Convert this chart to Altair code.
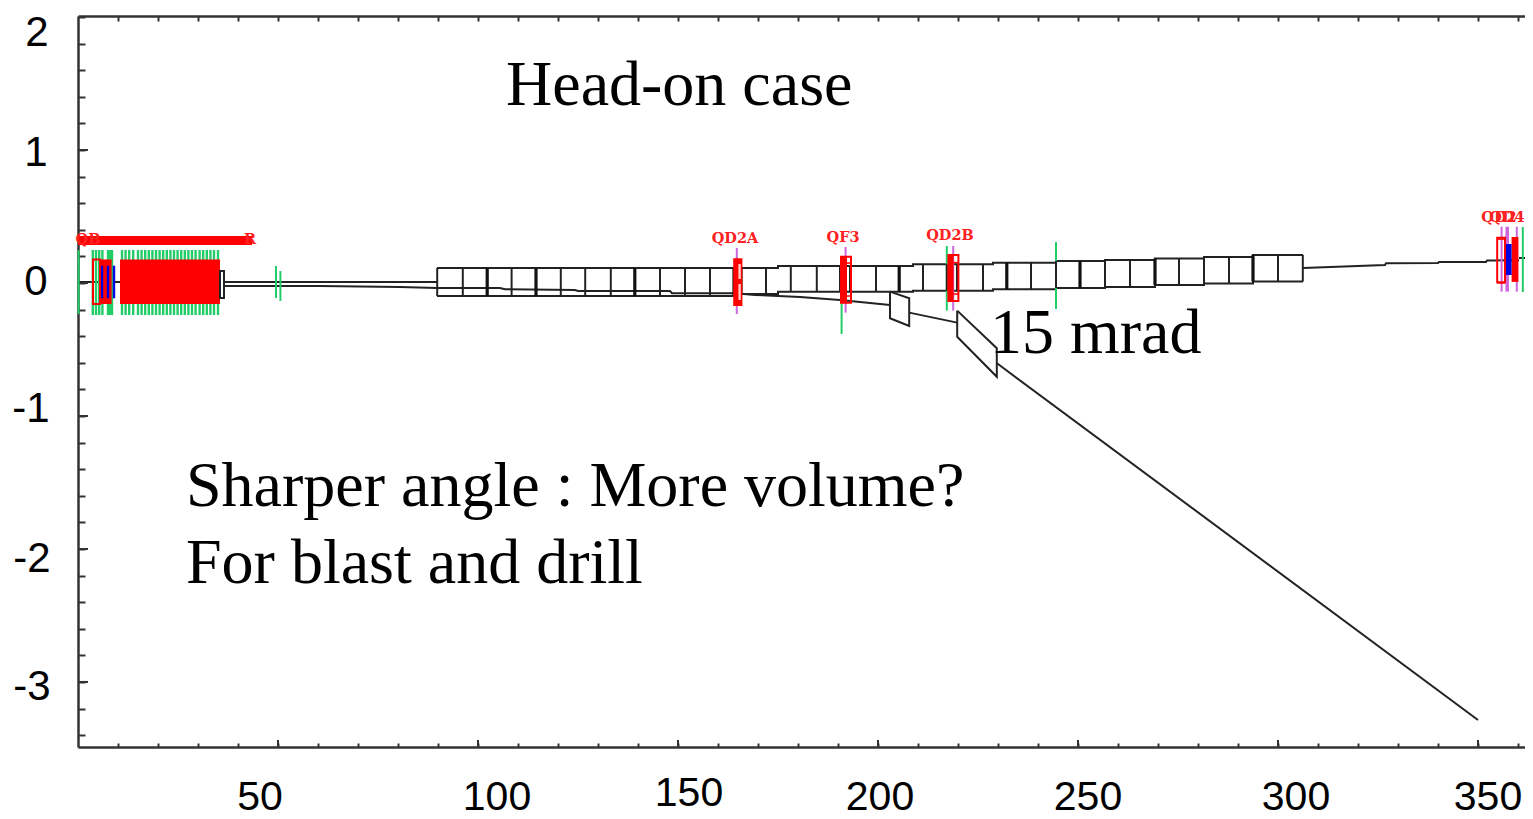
import bisect
import altair as alt
import pandas as pd

# ---- scales (data units) ----
X_DOMAIN = [0, 361.75]
Y_DOMAIN = [-3.489, 2.0075]
PLOT_W, PLOT_H = 1447, 731

x_ticks = list(range(10, 361, 10))
y_ticks = [-3.4, -3.2, -3.0, -2.8, -2.6, -2.4, -2.2, -2.0, -1.8, -1.6, -1.4, -1.2, -1.0, -0.8, -0.6,
           -0.4, -0.2, 0.0, 0.2, 0.4, 0.6, 0.8, 1.0, 1.2, 1.4, 1.6, 1.8, 2.0]
x_major = [50, 100, 150, 200, 250, 300, 350]
y_major = [-3, -2, -1, 0, 1]

# ---- hand placed tick labels (they are off-grid in the reference) ----
x_label_text = ["50", "100", "150", "200", "250", "300", "350"]
x_label_x = [45.5, 104.75, 152.75, 200.5, 252.5, 304.5, 352.5]
x_label_y = [-3.876, -3.876, -3.842, -3.876, -3.876, -3.876, -3.876]
y_label_text = ["2", "1", "0", "-1", "-2", "-3"]
y_label_x = [-10.25, -10.5, -10.5, -11.75, -11.5, -11.5]
y_label_y = [1.88, 0.977, 0.01, -0.948, -2.076, -3.038]

# ---- annotations ----
note_text = ["Head-on case", "15 mrad", "Sharper angle : More volume?", "For blast and drill"]
note_x = [107.0, 228.0, 27.0, 27.0]
note_y = [1.338, -0.526, -1.677, -2.256]

# ---- magnet labels ----
mag_text = ["QD2A", "QF3", "QD2B", "QD2", "QD4"]
mag_x = [164.25, 191.25, 218.0, 355.25, 357.25]
mag_y = [0.331, 0.338, 0.353, 0.485, 0.485]
bar_text = ["QB", "R"]
bar_x = [2.5, 43.0]
bar_y = [0.32, 0.32]

# ---- tunnel segments (stepped top and bottom walls) ----
seg_edges = [89.75, 164.75, 175.0, 208.75, 228.75, 244.5, 256.75, 269.25, 281.5, 293.75, 306.25]
seg_top = [0.113, 0.113, 0.128, 0.141, 0.153, 0.165, 0.173, 0.184, 0.195, 0.211]
seg_bottom = [-0.098, -0.083, -0.065, -0.058, -0.047, -0.038, -0.030, -0.015, -0.004, 0.011]

thin_dividers = [89.8, 96.2, 108.4, 120.7, 126.8, 133.2, 145.5, 151.75, 158.0, 165.9, 172.0, 178.2, 184.7,
                 190.5, 193.0, 199.5, 211.25, 217.2, 219.75, 226.25, 238.25, 244.5, 256.75, 263.0,
                 275.25, 281.5, 287.75, 300.0, 306.2]
thick_dividers = [102.3, 114.5, 139.2, 164.0, 205.3, 232.2, 250.5, 269.25, 293.75]

# ---- beam lines ----
beam_a_x = [36.5, 89.75]
beam_a_y = [0.008, 0.008]
beam_b_x = [36.5, 60.5, 80.5, 89.75, 105.5, 106.75, 124.25, 125.0, 148.0, 148.5, 164.25, 169.25, 180.5, 190.5, 203.0]
beam_b_y = [-0.023, -0.023, -0.030, -0.038, -0.038, -0.047, -0.053, -0.060, -0.060, -0.077, -0.077, -0.090,
            -0.105, -0.128, -0.165]
beam_c_x = [207.8, 219.8]
beam_c_y = [-0.223, -0.298]
beam_d_x = [229.75, 350.0]
beam_d_y = [-0.604, -3.286]
beam_e_x = [306.25, 326.75, 327.0, 340.0, 340.25, 352.0, 352.25, 354.75]
beam_e_y = [0.113, 0.135, 0.148, 0.150, 0.158, 0.158, 0.169, 0.169]
beam_f_x = [360.25, 361.75]
beam_f_y = [0.188, 0.188]
beam_g_x = [0.0, 10.5]
beam_g_y = [0.008, 0.008]
beam_h_x = [355.0, 360.25]
beam_h_y = [0.17, 0.17]

# ---- bend magnets (closed outlines) ----
bend_1_x = [203.0, 207.8, 207.8, 203.0, 203.0]
bend_1_y = [-0.065, -0.115, -0.323, -0.265, -0.065]
bend_2_x = [219.8, 229.7, 229.7, 219.8, 219.8]
bend_2_y = [-0.208, -0.491, -0.705, -0.404, -0.208]

# ---- green correctors ----
green_stripes_x = [3.7, 4.5, 5.3, 6.1, 11.0, 11.9, 12.8, 13.8, 15.0, 15.9, 16.8, 17.7, 18.6, 19.5, 20.4, 21.3,
                   22.2, 23.1, 24.0, 24.9, 25.8, 26.7, 27.6, 28.5, 29.4, 30.4, 31.3, 32.2, 33.1, 34.0, 35.0]
green_other_x = [0.15, 49.5, 50.6, 190.9, 217.2, 244.5, 361.2]
green_other_y = [0.248, 0.128, 0.09, -0.148, 0.278, 0.308, 0.421]
green_other_y2 = [-0.233, -0.113, -0.135, -0.383, -0.208, -0.195, -0.068]

# ---- purple lines ----
purple_x = [164.7, 191.9, 218.8, 355.9, 357.3, 359.7]
purple_y = [0.263, 0.271, 0.278, 0.423, 0.423, 0.423]
purple_y2 = [-0.233, -0.223, -0.208, -0.065, -0.065, -0.065]
purple_w = [2, 2, 2, 2, 3.5, 2]

# ---- filled rectangles: x, x2, y, y2, colour ----
rect_x = [7.2, 0.0, 10.5, 5.5, 163.8, 165.1, 165.1, 190.75, 217.6, 358.4, 5.7, 7.2, 8.7, 356.9]
rect_x2 = [8.8, 43.5, 35.5, 8.4, 166.1, 165.7, 165.7, 192.25, 218.9, 360.1, 6.3, 7.8, 9.3, 358.4]
rect_y = [0.248, 0.353, 0.177, 0.177, 0.186, 0.143, -0.008, 0.198, 0.211, 0.346, 0.130, 0.130, 0.130, 0.293]
rect_y2 = [-0.241, 0.286, -0.158, -0.158, -0.173, 0.03, -0.128, -0.148, -0.135, 0.008, -0.115, -0.115, -0.115, 0.06]
rect_c = ["#22cc66", "#ff0000", "#ff0000", "#ff0000", "#ff0000", "#ffcccc", "#ffcccc", "#ff0000", "#ff0000",
          "#ff0000", "#0000e0", "#0000e0", "#0000e0", "#0000e0"]

# ---- outlined boxes ----
box_x = [3.75, 35.5, 190.75, 217.6, 354.8]
box_x2 = [5.5, 36.5, 193.25, 220.1, 356.75]
box_y = [0.177, 0.09, 0.198, 0.211, 0.341]
box_y2 = [-0.158, -0.113, -0.148, -0.135, 0.005]
box_c = ["#ff0000", "#222222", "#ff0000", "#ff0000", "#ff0000"]

# ---- cross lines inside quadrupoles ----
cross_x = [190.75, 190.75, 217.6, 217.6, 354.8, 354.8]
cross_x2 = [193.25, 193.25, 220.1, 220.1, 356.75, 356.75]
cross_y = [0.150, -0.098, 0.153, -0.083, 0.33, 0.0]


xs = alt.Scale(domain=X_DOMAIN, nice=False, zero=False)
ys = alt.Scale(domain=Y_DOMAIN, nice=False, zero=False)
X = alt.X("x:Q", scale=xs, axis=None)
Y = alt.Y("y:Q", scale=ys, axis=None)


def seg_index(v):
    return min(max(bisect.bisect_right(seg_edges, v) - 1, 0), len(seg_top) - 1)


def rules(df, color, width):
    return alt.Chart(df).mark_rule(color=color, strokeWidth=width).encode(X, Y, x2="x2:Q", y2="y2:Q")


def vrules(xs_, ys_, ys2_, color, width):
    return rules(pd.DataFrame({"x": xs_, "x2": xs_, "y": ys_, "y2": ys2_}), color, width)


paths = [
    ("a", beam_a_x, beam_a_y), ("b", beam_b_x, beam_b_y), ("c", beam_c_x, beam_c_y), ("d", beam_d_x, beam_d_y),
    ("e", beam_e_x, beam_e_y), ("f", beam_f_x, beam_f_y), ("g", beam_g_x, beam_g_y), ("h", beam_h_x, beam_h_y),
    ("m1", bend_1_x, bend_1_y), ("m2", bend_2_x, bend_2_y),
]
top_x, top_y, bot_x, bot_y = [], [], [], []
for i in range(len(seg_top)):
    top_x += [seg_edges[i], seg_edges[i + 1]]
    top_y += [seg_top[i], seg_top[i]]
    bot_x += [seg_edges[i], seg_edges[i + 1]]
    bot_y += [seg_bottom[i], seg_bottom[i]]
paths += [("top", top_x, top_y), ("bot", bot_x, bot_y)]
rows = []
for name, px, py in paths:
    for k, (a, b) in enumerate(zip(px, py)):
        rows.append({"g": name, "i": k, "x": a, "y": b})
lines_df = pd.DataFrame(rows)

lines = alt.Chart(lines_df).mark_line(color="#222222", strokeWidth=2).encode(
    alt.X("x:Q", scale=xs, axis=alt.Axis(orient="top", offset=-PLOT_H, values=x_ticks, labels=False, title=None,
                                         grid=False, tickSize=4, tickWidth=2, tickColor="#333333",
                                         domainColor="#333333", domainWidth=2.5)),
    alt.Y("y:Q", scale=ys, axis=alt.Axis(orient="left", values=y_ticks, labels=False, title=None,
                                         grid=False, tickSize=alt.expr("-7"), tickWidth=2, tickColor="#333333",
                                         domainColor="#333333", domainWidth=2.5)),
    detail="g:N",
    order="i:Q",
)

top_axis = alt.Chart(pd.DataFrame({"x": [0.0], "y": [2.0]})).mark_point(opacity=0).encode(
    alt.X("x:Q", scale=xs, axis=alt.Axis(orient="bottom", offset=-PLOT_H, values=x_ticks, labels=False, title=None,
                                         grid=False, tickSize=5, tickWidth=2, tickColor="#333333",
                                         domainColor="#333333", domainWidth=2.5)),
    Y,
)

# longer major ticks
major_x = vrules(x_major, [-3.489] * len(x_major), [-3.436] * len(x_major), "#333333", 2)
major_y = rules(pd.DataFrame({"x": [0.0] * len(y_major), "x2": [2.5] * len(y_major), "y": y_major, "y2": y_major}),
                "#333333", 2)

stripes = vrules(green_stripes_x, [0.248] * len(green_stripes_x), [-0.241] * len(green_stripes_x), "#22cc66", 2.4)
green_other = vrules(green_other_x, green_other_y, green_other_y2, "#22cc66", 2)

dividers_thin = vrules(thin_dividers, [seg_top[seg_index(v)] for v in thin_dividers],
                       [seg_bottom[seg_index(v)] for v in thin_dividers], "#222222", 2)
dividers_thick = vrules(thick_dividers, [seg_top[seg_index(v)] for v in thick_dividers],
                        [seg_bottom[seg_index(v)] for v in thick_dividers], "#111111", 3.2)

purple = alt.Chart(pd.DataFrame({"x": purple_x, "x2": purple_x, "y": purple_y, "y2": purple_y2, "w": purple_w})).mark_rule(
    color="#cc66dd").encode(X, Y, x2="x2:Q", y2="y2:Q", strokeWidth=alt.StrokeWidth("w:Q", scale=None))

rect_df = pd.DataFrame({"x": rect_x, "x2": rect_x2, "y": rect_y, "y2": rect_y2, "c": rect_c})
rects = alt.Chart(rect_df).mark_rect().encode(X, Y, x2="x2:Q", y2="y2:Q", color=alt.Color("c:N", scale=None))

box_df = pd.DataFrame({"x": box_x, "x2": box_x2, "y": box_y, "y2": box_y2, "c": box_c})
boxes = alt.Chart(box_df).mark_rect(fillOpacity=0, strokeWidth=2).encode(
    X, Y, x2="x2:Q", y2="y2:Q", stroke=alt.Stroke("c:N", scale=None))

cross = rules(pd.DataFrame({"x": cross_x, "x2": cross_x2, "y": cross_y, "y2": cross_y}), "#ff0000", 1.5)


def texts(text, x, y, **kw):
    df = pd.DataFrame({"t": text, "x": x, "y": y})
    return alt.Chart(df).mark_text(**kw).encode(X, Y, text="t:N")


x_labels = texts(x_label_text, x_label_x, x_label_y, font="Liberation Sans", fontSize=41, color="#000000",
                 align="center", baseline="middle")
y_labels = texts(y_label_text, y_label_x, y_label_y, font="Liberation Sans", fontSize=42, color="#000000",
                 align="center", baseline="middle")
notes = texts(note_text, note_x, note_y, font="Liberation Serif", fontSize=64, color="#000000",
              align="left", baseline="alphabetic")
mags = texts(mag_text, mag_x, mag_y, font="DejaVu Serif", fontSize=14.5, fontWeight="bold", color="#ff2020",
             align="center", baseline="middle")
bar_labels = texts(bar_text, bar_x, bar_y, font="DejaVu Serif", fontSize=14.5, fontWeight="bold", color="#ff2020",
                   align="center", baseline="middle")

chart = alt.layer(
    lines, top_axis, major_x, major_y, stripes, green_other, dividers_thin, dividers_thick, purple, rects, boxes,
    cross, x_labels, y_labels, mags, bar_labels, notes,
).resolve_axis(x="independent", y="independent").properties(
    width=PLOT_W,
    height=PLOT_H,
    padding={"left": 70, "top": 8, "right": 0, "bottom": 72},
    autosize=alt.AutoSizeParams(type="none"),
    background="#ffffff",
).configure_view(stroke=None)

chart.save("out.html", embed_options={"renderer": "svg", "actions": False})
